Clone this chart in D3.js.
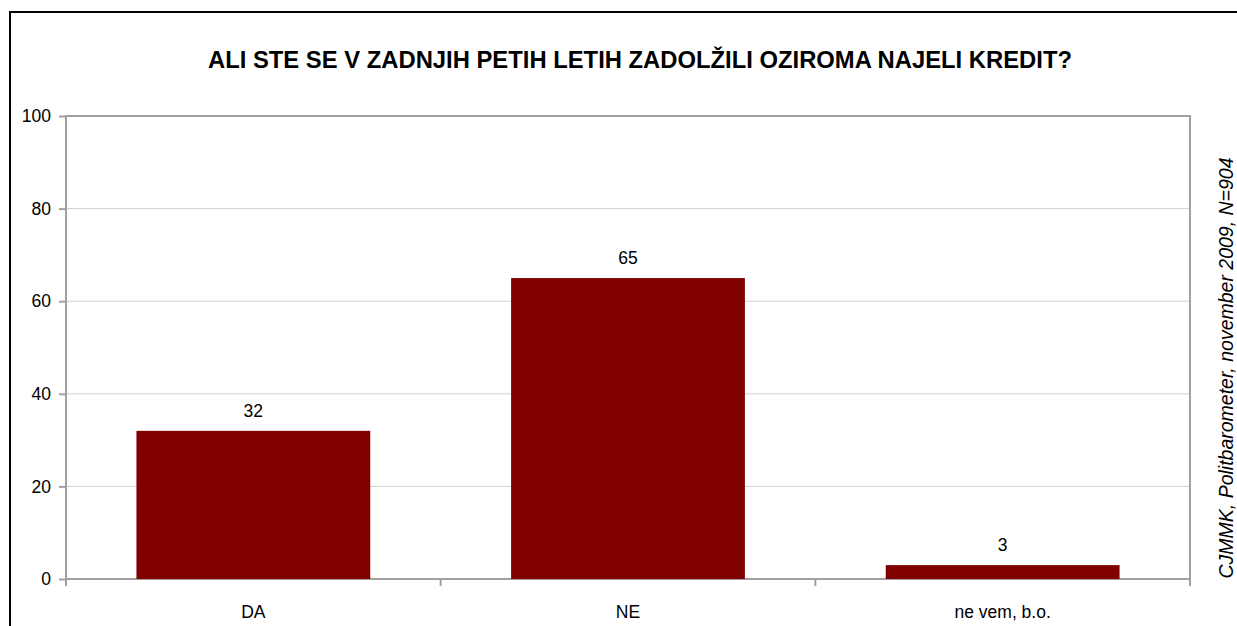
<!DOCTYPE html>
<html>
<head>
<meta charset="utf-8">
<script src="https://cdn.jsdelivr.net/npm/d3@7"></script>
<style>
  body { margin: 0; background: #fff; }
  svg { display: block; font-family: "Liberation Sans", Arial, sans-serif; }
</style>
</head>
<body>
<div id="chart"></div>
<script>
// chart data
var categories = ["DA", "NE", "ne vem, b.o."];
var values = [32, 65, 3];
var yTicks = [0, 20, 40, 60, 80, 100];
var titleText = "ALI STE SE V ZADNJIH PETIH LETIH ZADOLŽILI OZIROMA NAJELI KREDIT?";
var sourceText = "CJMMK, Politbarometer, november 2009, N=904";

var WIDTH = 1237, HEIGHT = 626;
var MARGIN = {top: 116, right: 47, bottom: 47, left: 66};
var PLOT_W = WIDTH - MARGIN.left - MARGIN.right,
    PLOT_H = HEIGHT - MARGIN.top - MARGIN.bottom;

var svg = d3.select('#chart').append('svg')
    .attr('width', WIDTH)
    .attr('height', HEIGHT);

// outer frame (runs off the right and bottom edges)
svg.append('rect')
    .attr('x', 10).attr('y', 12)
    .attr('width', 1400).attr('height', 800)
    .attr('fill', 'none')
    .attr('stroke', '#000')
    .attr('stroke-width', 2);

svg.append('text')
    .attr('x', 640).attr('y', 68)
    .attr('text-anchor', 'middle')
    .attr('font-size', 23.5)
    .attr('font-weight', 'bold')
    .attr('textLength', 864)
    .attr('lengthAdjust', 'spacingAndGlyphs')
    .text(titleText);

var g = svg.append('g')
    .attr('transform', 'translate(' + MARGIN.left + ',' + MARGIN.top + ')');

var x = d3.scaleBand()
    .domain(categories)
    .range([0, PLOT_W])
    .paddingInner(0.376)
    .paddingOuter(0.188);

var y = d3.scaleLinear()
    .domain([0, 100])
    .range([PLOT_H, 0]);

// gridlines
g.selectAll('.grid')
    .data(yTicks.filter(function(d) { return d > 0 && d < 100; }))
    .enter()
    .append('line')
        .attr('x1', 0).attr('x2', PLOT_W)
        .attr('y1', function(d) { return y(d); })
        .attr('y2', function(d) { return y(d); })
        .style('stroke', '#d0d0d0')
        .style('stroke-width', 1);

// plot frame
g.append('rect')
    .attr('x', 0).attr('y', 0)
    .attr('width', PLOT_W).attr('height', PLOT_H)
    .attr('fill', 'none')
    .attr('stroke', '#a0a0a0')
    .attr('stroke-width', 2);

// bars
g.selectAll('.bar')
    .data(values)
    .enter()
    .append('rect')
        .attr('x', function(d, i) { return x(categories[i]); })
        .attr('y', function(d) { return y(d); })
        .attr('width', x.bandwidth())
        .attr('height', function(d) { return PLOT_H - y(d); })
        .style('fill', '#800000');

// value labels
g.selectAll('.val')
    .data(values)
    .enter()
    .append('text')
        .attr('x', function(d, i) { return x(categories[i]) + x.bandwidth() / 2; })
        .attr('y', function(d) { return y(d) - 14; })
        .attr('text-anchor', 'middle')
        .attr('font-size', 17.5)
        .text(function(d) { return d; });

// y axis
var yAxis = g.append('g')
    .call(d3.axisLeft(y).tickValues(yTicks).tickSize(7).tickPadding(8).tickFormat(d3.format('d')));
yAxis.select('.domain').remove();
yAxis.selectAll('line').style('stroke', '#a0a0a0').style('stroke-width', 2);
yAxis.selectAll('text').attr('font-size', 17.5).attr('font-family', null).attr('fill', '#000');

// x axis: ticks between categories
g.selectAll('.xtick')
    .data(d3.range(categories.length + 1))
    .enter()
    .append('line')
        .attr('x1', function(i) { return i * x.step(); })
        .attr('x2', function(i) { return i * x.step(); })
        .attr('y1', PLOT_H).attr('y2', PLOT_H + 7)
        .style('stroke', '#a0a0a0')
        .style('stroke-width', 2);

g.selectAll('.xlab')
    .data(categories)
    .enter()
    .append('text')
        .attr('x', function(d) { return x(d) + x.bandwidth() / 2; })
        .attr('y', PLOT_H + 39)
        .attr('text-anchor', 'middle')
        .attr('font-size', 17.5)
        .text(function(d) { return d; });

// source, rotated on the right
svg.append('text')
    .attr('transform', 'translate(1233,368) rotate(-90)')
    .attr('text-anchor', 'middle')
    .attr('font-size', 19.5)
    .attr('font-style', 'italic')
    .text(sourceText);
</script>
</body>
</html>
